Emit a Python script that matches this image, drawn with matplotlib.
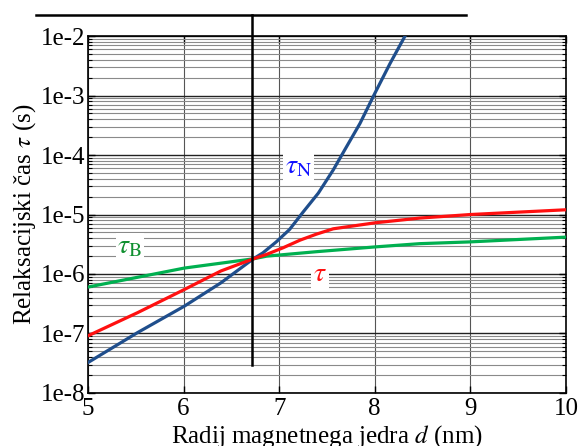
import numpy as np
import matplotlib
matplotlib.use("Agg")
import matplotlib.pyplot as plt
from matplotlib.lines import Line2D
from matplotlib.ticker import LogLocator, FixedLocator, NullFormatter

plt.rcParams['font.family'] = ['Liberation Serif', 'DejaVu Serif']
plt.rcParams['mathtext.fontset'] = 'stix'

# values (log10 of relaxation time in s)
d_neel = [5.0, 5.52, 6.01, 6.39, 6.73, 6.83, 6.97, 7.11, 7.25, 7.41, 7.566,
          7.705, 7.845, 8.0, 8.16, 8.316]
log_neel = [-7.49, -6.985, -6.54, -6.15, -5.745, -5.645, -5.46, -5.25, -4.96,
            -4.64, -4.25, -3.86, -3.47, -2.965, -2.46, -2.0]

d_brown = [5.0, 6.01, 6.73, 6.87, 7.39, 8.0, 8.47, 9.0, 10.0]
log_brown = [-6.22, -5.9, -5.745, -5.70, -5.625, -5.545, -5.49, -5.46, -5.38]

d_eff = [5.0, 5.52, 6.01, 6.39, 6.73, 6.87, 7.04, 7.22, 7.39, 7.566, 8.0,
         8.47, 9.0, 10.0]
log_eff = [-7.04, -6.65, -6.26, -5.95, -5.745, -5.67, -5.56, -5.43, -5.33,
           -5.24, -5.14, -5.06, -5.0, -4.92]

d_cross = 6.72
xticks = [5, 6, 7, 8, 9, 10]
ydecades = [-8, -7, -6, -5, -4, -3, -2]

fig = plt.figure(figsize=(5.82, 4.46), dpi=100)
ax = fig.add_axes([0.151, 0.119, 0.8215, 0.8])

ax.plot(d_neel, 10.0 ** np.array(log_neel), color='#1f4e8c', lw=2.3, zorder=4)
ax.plot(d_eff, 10.0 ** np.array(log_eff), color='#ff1010', lw=2.3, zorder=4)
ax.plot(d_brown, 10.0 ** np.array(log_brown), color='#00b050', lw=2.3, zorder=3)

ax.set_yscale('log')
ax.set_xlim(5, 10)
ax.set_ylim(1e-8, 1e-2)

ax.xaxis.set_major_locator(FixedLocator(xticks))
ax.set_xticklabels([str(x) for x in xticks])
ax.yaxis.set_major_locator(FixedLocator([10.0 ** k for k in ydecades]))
ax.set_yticklabels(['1e%d' % k for k in ydecades])
ax.yaxis.set_minor_locator(LogLocator(base=10, subs=np.arange(2, 10), numticks=20))
ax.yaxis.set_minor_formatter(NullFormatter())

ax.tick_params(which='both', direction='in', top=True, right=True, labelsize=18)
ax.tick_params(which='major', length=5, width=1)
ax.tick_params(which='minor', length=3, width=0.8)
ax.tick_params(axis='x', pad=4)
ax.tick_params(axis='y', pad=2)

ax.grid(True, which='major', axis='y', color='#222222', lw=1.0)
ax.grid(True, which='minor', axis='y', color='#8a8a8a', lw=0.8)
ax.grid(True, which='major', axis='x', color='#555555', lw=0.8)
for s in ax.spines.values():
    s.set_linewidth(1.2)

# the reference crops the bottom of this label, keep it in the same place
ax.set_xlabel('Radij magnetnega jedra $d$ (nm)', fontsize=18)
ax.xaxis.label.set_va('baseline')
ax.xaxis.set_label_coords(0.5, -0.138)
ax.set_ylabel(r'Relaksacijski čas $\tau$ (s)', fontsize=18, labelpad=2)

box = dict(facecolor='white', edgecolor='none', pad=1.5)
ax.text(7.2, 10 ** -4.2, r'$\tau_{\mathrm{N}}$', color='#1010ff', fontsize=20,
        ha='center', va='center', bbox=box, zorder=5)
ax.text(5.44, 10 ** -5.55, r'$\tau_{\mathrm{B}}$', color='#109030', fontsize=20,
        ha='center', va='center', bbox=box, zorder=5)
ax.text(7.424, 10 ** -6.01, r'$\tau$', color='#ff1010', fontsize=20,
        ha='center', va='center', bbox=box, zorder=5)

# black marker lines above and through the plot
ax.plot([d_cross, d_cross], [10 ** -7.53, 10 ** -1.65], color='black', lw=1.8,
        clip_on=False, zorder=6)
fig.add_artist(Line2D([36 / 582, 466 / 582], [1 - 15 / 446, 1 - 15 / 446],
                      color='black', lw=1.8))

fig.savefig('out.png', dpi=100)
